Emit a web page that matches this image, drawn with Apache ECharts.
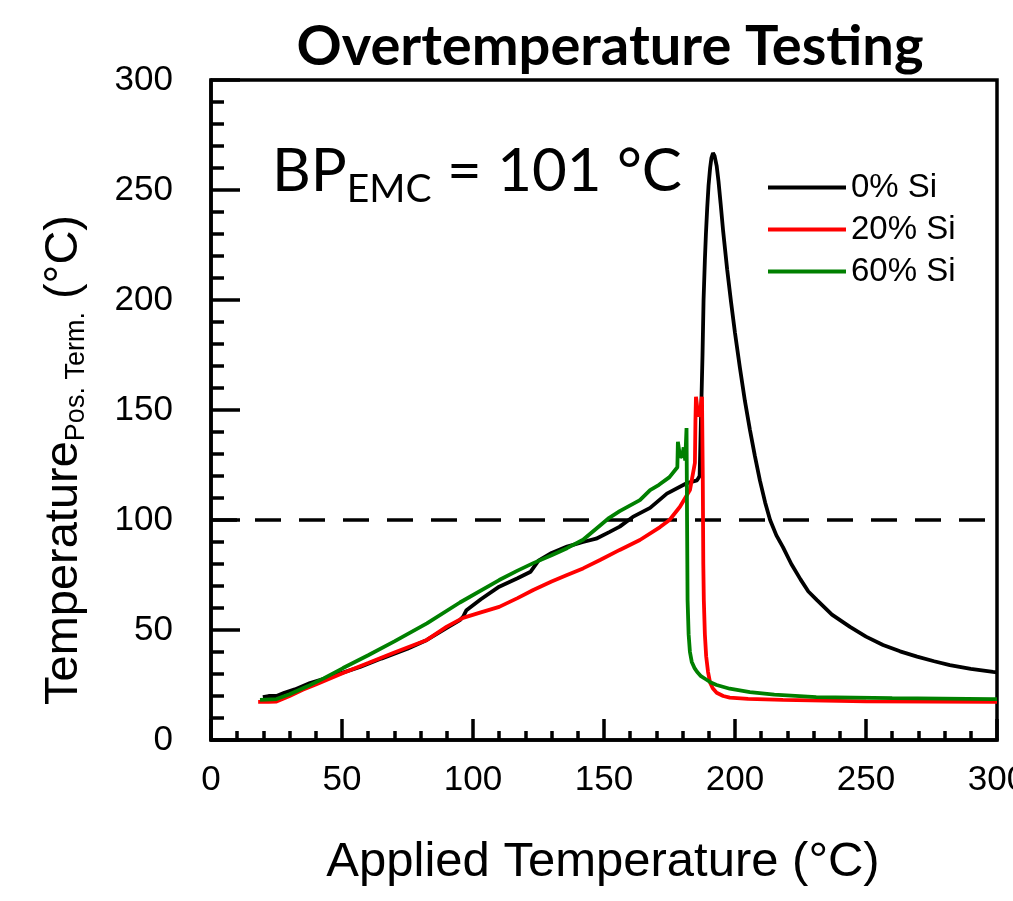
<!DOCTYPE html>
<html>
<head>
<meta charset="utf-8">
<script src="https://cdn.jsdelivr.net/npm/echarts@6/dist/echarts.min.js"></script>
<style>html,body{margin:0;padding:0;background:#fff;}#c{width:1013px;height:901px;}</style>
</head>
<body>
<div id="c"></div>
<script>
// ---- data (x = applied temperature °C, y = positive terminal temperature °C)
const seriesNames = ['0% Si', '20% Si', '60% Si'];
const xTicks = [0, 50, 100, 150, 200, 250, 300];
const yTicks = [0, 50, 100, 150, 200, 250, 300];
const refLineX = [0, 300];
const refLineY = [100, 100];

const si0 = [[19.8,19.5],[22,20],[25,20],[28,21.5],[32,23],[37.8,25.9],[45,28.5],[50,30.5],[56.9,33.2],[65,37],[75,41.5],[82.4,45.5],[90,51],[95,54.5],[96.2,56],[97.5,59],[103,64],[110,69.7],[117,73.5],[122,76.5],[123.5,79],[125,81.5],[130,85],[135.9,87.9],[142,90],[147,91.5],[152,94.5],[156,97],[161,101.4],[167.6,105.5],[174,112],[181.7,116.8],[185.5,118],[186.5,120],[186.8,135],[187.2,155],[187.6,175],[188,200],[188.5,218],[188.9,230],[189.4,242],[189.9,252],[190.5,260],[191,264.5],[191.6,266.8],[192.2,265.5],[193,261],[193.7,254],[194.5,244],[195.5,231],[197,214],[198.5,199],[200,185],[201.9,169],[203.8,154],[205.7,141],[207.6,129],[209.5,118],[211.5,108],[213.4,100],[215.8,93],[218.3,87.7],[221.5,80],[225,73],[228,67.5],[231.3,63.6],[237,57],[243.9,51.4],[250,47],[256.5,43.2],[263,40.3],[269.5,37.9],[276,35.8],[282,34],[290,32.3],[298.5,31],[300,30.8]];

const si20 = [[18,17.3],[22,17.3],[25,17.5],[30,20],[35,22.8],[40,25.2],[50.4,30.5],[60,35],[70,39.8],[82.4,45.5],[90,51.5],[96.2,55.5],[103,58],[110,60.5],[117,64.5],[123,68.2],[130,72],[135.9,75],[142,78],[148.5,81.8],[156,86.4],[163.7,90.9],[171.4,96.8],[175,100],[179,106],[182.8,113.6],[184.7,126],[184.9,145],[185.1,156],[186,147],[186.8,150],[187.4,156],[187.7,120],[187.9,80],[188.1,63.6],[188.5,48],[189,38],[189.7,31],[190.5,26],[191.5,23.5],[193,21.5],[195.5,20],[198,19.3],[205,18.7],[218.3,18.2],[250,17.6],[298.5,17.3],[300,17.3]];

const si60 = [[18.7,18.2],[25,18.6],[30,20.8],[37,24.5],[43,28],[50.4,32.7],[60,38.5],[70,44.8],[82.4,53],[95,62.5],[110,72.7],[117,77],[123,80.4],[130,84],[135.9,87.2],[142,91],[148.5,97.5],[152,101],[156,104],[163.7,109],[167.6,113.6],[171,116],[175,119.5],[178,124],[178.2,135.5],[179,129],[179.8,128.6],[180.4,133],[181,127],[181.5,141.8],[181.7,100],[181.9,63.6],[182.3,48],[182.8,40],[183.5,35.5],[184.5,32.8],[185.5,31],[187,29],[189,27.5],[191,26],[193,25],[198,23.3],[205.7,21.8],[215,20.6],[231,19.5],[260,19],[298.5,18.6],[300,18.6]];

const colors = ['#000000', '#ff0000', '#008000'];
const seriesData = [si0, si20, si60];

const chart = echarts.init(document.getElementById('c'), null, {renderer: 'canvas'});
const axisFont = 'Liberation Sans, Arial, sans-serif';
const gillFont = 'Lato, sans-serif';

const series = seriesData.map((d, i) => ({
  name: seriesNames[i],
  type: 'line',
  data: d,
  symbol: 'none',
  lineStyle: {color: colors[i], width: 3.8},
  itemStyle: {color: colors[i]},
  z: 3 + i
}));
series.push({
  name: 'ref',
  type: 'line',
  data: refLineX.map((x, i) => [x, refLineY[i]]),
  symbol: 'none',
  lineStyle: {color: '#000', width: 3.5, type: [26, 18]},
  z: 2,
  silent: true
});

chart.setOption({
  animation: false,
  backgroundColor: '#fff',
  title: {
    text: 'Overtemperature Testing',
    left: 605, top: 14, textAlign: 'center',
    textStyle: {fontFamily: gillFont, fontWeight: 'bold', fontSize: 56, color: '#000'}
  },
  grid: {left: 211, right: 16, top: 80, bottom: 161, outerBoundsMode: 'none', containLabel: false,
    show: true, borderColor: '#000', borderWidth: 3.5, backgroundColor: 'transparent'},
  legend: {
    data: seriesNames,
    orient: 'vertical',
    left: 763, top: 166,
    icon: 'rect',
    itemWidth: 78, itemHeight: 4,
    itemGap: 9,
    textStyle: {fontFamily: axisFont, fontSize: 33, color: '#000', padding: [0,0,0,0]}
  },
  xAxis: {
    type: 'value', min: 0, max: 300, interval: 50,
    axisLine: {lineStyle: {color: '#000', width: 3.5}},
    axisTick: {inside: true, length: 21, lineStyle: {color: '#000', width: 3.5}},
    minorTick: {show: true, splitNumber: 5, length: 9, lineStyle: {color: '#000', width: 3.5}},
    splitLine: {show: false},
    axisLabel: {fontFamily: axisFont, fontSize: 35, color: '#000', margin: 23,
      formatter: v => xTicks.includes(v) ? String(v) : ''}
  },
  yAxis: {
    type: 'value', min: 0, max: 300, interval: 50,
    axisLine: {lineStyle: {color: '#000', width: 3.5}},
    axisTick: {inside: true, length: 29, lineStyle: {color: '#000', width: 3.5}},
    minorTick: {show: true, splitNumber: 5, length: 13, lineStyle: {color: '#000', width: 3.5}},
    splitLine: {show: false},
    axisLabel: {fontFamily: axisFont, fontSize: 35, color: '#000', margin: 38,
      formatter: v => yTicks.includes(v) ? String(v) : ''}
  },
  series: series,
  graphic: [
    {
      type: 'text', x: 603, y: 862,
      style: {text: 'Applied Temperature (°C)', fontFamily: axisFont, fontSize: 49, fill: '#000', textAlign: 'center', textVerticalAlign: 'middle'}
    },
    {
      type: 'text', x: 64, y: 460, rotation: Math.PI / 2,
      style: {
        text: '{a|Temperature}{s|Pos. Term.}{a| (°C)}',
        textAlign: 'center', textVerticalAlign: 'middle',
        rich: {
          a: {fontFamily: axisFont, fontSize: 47, fill: '#000', lineHeight: 56, verticalAlign: 'middle'},
          s: {fontFamily: axisFont, fontSize: 27, fill: '#000', lineHeight: 56, verticalAlign: 'middle', padding: [26, 0, 0, 0]}
        }
      }
    },
    {
      type: 'text', x: 272, y: 172,
      style: {
        text: '{a|BP}{s|EMC}{a| = 101 °C}',
        textAlign: 'left', textVerticalAlign: 'middle',
        rich: {
          a: {fontFamily: gillFont, fontSize: 60, fill: '#000', lineHeight: 70, verticalAlign: 'middle'},
          s: {fontFamily: gillFont, fontSize: 39, fill: '#000', lineHeight: 70, verticalAlign: 'middle', padding: [34, 0, 0, 0]}
        }
      }
    }
  ]
});
</script>
</body>
</html>
